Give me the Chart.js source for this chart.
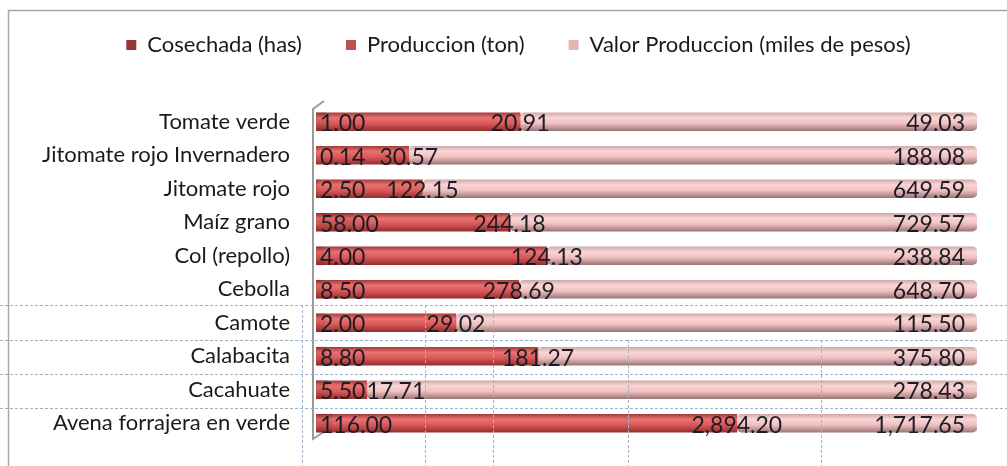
<!DOCTYPE html>
<html>
<head>
<meta charset="utf-8">
<script src="https://cdn.jsdelivr.net/npm/chart.js@4/dist/chart.umd.min.js"></script>
<style>
  html, body { margin: 0; background: #fff; }
  #wrap { width: 1007px; height: 466px; }
</style>
</head>
<body>
<div id="wrap"><canvas id="cultivosChart"></canvas></div>
<script>
const categories = ['Tomate verde', 'Jitomate rojo Invernadero', 'Jitomate rojo', 'Maíz grano', 'Col (repollo)',
    'Cebolla', 'Camote', 'Calabacita', 'Cacahuate', 'Avena forrajera en verde'];
const cosechada = [1.00, 0.14, 2.50, 58.00, 4.00, 8.50, 2.00, 8.80, 5.50, 116.00];
const produccion = [20.91, 30.57, 122.15, 244.18, 124.13, 278.69, 29.02, 181.27, 17.71, 2894.20];
const valorProduccion = [49.03, 188.08, 649.59, 729.57, 238.84, 648.70, 115.50, 375.80, 278.43, 1717.65];
const seriesNames = ['Cosechada (has)', 'Produccion (ton)', 'Valor Produccion (miles de pesos)'];

// 100% stacked, like the Excel chart
const totals = categories.map((_, i) => cosechada[i] + produccion[i] + valorProduccion[i]);
const pct = arr => arr.map((v, i) => v / totals[i] * 100);
const fmt = v => v.toLocaleString('en-US', { minimumFractionDigits: 2, maximumFractionDigits: 2 });

const legendColors = ['#963533', '#c0504d', '#e3b5b4'];

// cylinder look: vertical gradient per bar
function tube(stops) {
    return (c) => {
        const chart = c.chart;
        const y = chart.scales.y;
        if (!y || !chart.chartArea || c.dataIndex === undefined) return stops[2];
        const yc = y.getPixelForValue(c.dataIndex);
        if (!isFinite(yc)) return stops[2];
        const g = chart.ctx.createLinearGradient(0, yc - 9, 0, yc + 9);
        g.addColorStop(0, stops[0]);
        g.addColorStop(0.28, stops[1]);
        g.addColorStop(0.6, stops[2]);
        g.addColorStop(1, stops[3]);
        return g;
    };
}

// leave room between legend and plot like the original
const legendRoom = {
    id: 'legendRoom',
    beforeInit(chart) {
        const fit = chart.legend.fit;
        chart.legend.fit = function () {
            fit.call(this);
            this.height = 115;
        };
    },
    afterLayout(chart) {
        // long category names run past the left padding, don't clip them
        chart.scales.y.left = 0;
    }
};

const valueLabels = {
    id: 'valueLabels',
    afterDatasetsDraw(chart) {
        const ctx = chart.ctx;
        ctx.save();
        ctx.font = '23px Lato';
        ctx.fillStyle = '#1c1c26';
        ctx.textBaseline = 'middle';
        const firstRight = [];
        chart.data.datasets.forEach((ds, di) => {
            chart.getDatasetMeta(di).data.forEach((bar, i) => {
                const txt = fmt(ds.values[i]);
                const w = ctx.measureText(txt).width;
                if (di === 0) {
                    ctx.textAlign = 'left';
                    ctx.fillText(txt, bar.base + 4, bar.y + 2);
                    firstRight[i] = bar.base + 4 + w;
                } else if (di === 1) {
                    ctx.textAlign = 'center';
                    const cx = Math.max(bar.x, firstRight[i] + w / 2 + 1);
                    ctx.fillText(txt, cx, bar.y + 2);
                } else {
                    ctx.textAlign = 'right';
                    ctx.fillText(txt, bar.x - 12, bar.y + 2);
                }
            });
        });
        ctx.restore();
    }
};

// chart frame, 3D wall edge and the spreadsheet cell lines that show through
const sheet = {
    id: 'sheet',
    beforeDraw(chart) {
        const ctx = chart.ctx;
        ctx.save();
        ctx.fillStyle = '#fff';
        ctx.fillRect(0, 0, chart.width, chart.height);
        ctx.restore();
    },
    beforeDatasetsDraw(chart) {
        const { ctx, chartArea: a } = chart;
        ctx.save();
        ctx.strokeStyle = '#9a9a9a';
        ctx.lineWidth = 2;
        ctx.beginPath();
        ctx.moveTo(a.left + 8, a.top - 4);
        ctx.lineTo(a.left - 3, a.top + 4);
        ctx.lineTo(a.left - 3, a.bottom - 1);
        ctx.lineTo(a.left + 9, a.bottom - 9);
        ctx.stroke();
        ctx.restore();
    },
    afterDraw(chart) {
        const ctx = chart.ctx;
        ctx.save();
        ctx.strokeStyle = '#a6a6a6';
        ctx.lineWidth = 1.5;
        ctx.beginPath();
        ctx.moveTo(8.5, chart.height);
        ctx.lineTo(8.5, 10.5);
        ctx.lineTo(chart.width, 10.5);
        ctx.stroke();

        ctx.strokeStyle = '#9fb2cc';
        ctx.lineWidth = 1;
        ctx.setLineDash([3, 2]);
        ctx.beginPath();
        [305, 340, 374, 408].forEach(y => { ctx.moveTo(0, y + 0.5); ctx.lineTo(chart.width, y + 0.5); });
        [302, 425, 493].forEach(x => { ctx.moveTo(x + 0.5, 305); ctx.lineTo(x + 0.5, chart.height); });
        [628, 821].forEach(x => { ctx.moveTo(x + 0.5, 340); ctx.lineTo(x + 0.5, chart.height); });
        ctx.stroke();
        ctx.restore();
    }
};

new Chart(document.getElementById('cultivosChart'), {
    type: 'bar',
    data: {
        labels: categories,
        datasets: [{
            label: seriesNames[0],
            data: pct(cosechada),
            values: cosechada,
            backgroundColor: tube(['#8f302e', '#dc6763', '#c8524f', '#8a2c2a']),
        }, {
            label: seriesNames[1],
            data: pct(produccion),
            values: produccion,
            backgroundColor: tube(['#a63c3a', '#e8736f', '#d9585a', '#952f2d']),
        }, {
            label: seriesNames[2],
            data: pct(valorProduccion),
            values: valorProduccion,
            backgroundColor: tube(['#d2a9a9', '#f9d6d6', '#f0bfbf', '#9a7777']),
        }]
    },
    options: {
        indexAxis: 'y',
        responsive: true,
        maintainAspectRatio: false,
        animation: false,
        events: [],
        layout: { padding: { top: -10, left: 60, right: 30, bottom: 26 } },
        datasets: {
            bar: { barThickness: 18, borderRadius: 5, borderSkipped: false }
        },
        scales: {
            x: { display: false, stacked: true, min: 0, max: 100 },
            y: {
                stacked: true,
                grid: { display: false },
                border: { display: false },
                ticks: { padding: 18, color: '#1a1a1a', font: { family: 'Lato', size: 22 } },
                afterFit: (scale) => {
                    scale.width = 256;
                    scale.paddingTop = 0;
                    scale.paddingBottom = 0;
                }
            }
        },
        plugins: {
            legend: {
                position: 'top',
                labels: {
                    padding: 44,
                    boxWidth: 10,
                    boxHeight: 10,
                    color: '#1a1a1a',
                    font: { family: 'Lato', size: 22 },
                    generateLabels: (chart) => Chart.defaults.plugins.legend.labels.generateLabels(chart)
                        .map((item, i) => ({ ...item, fillStyle: legendColors[i], strokeStyle: legendColors[i], lineWidth: 0 }))
                }
            },
            tooltip: { enabled: false }
        }
    },
    plugins: [legendRoom, sheet, valueLabels]
});
</script>
</body>
</html>
